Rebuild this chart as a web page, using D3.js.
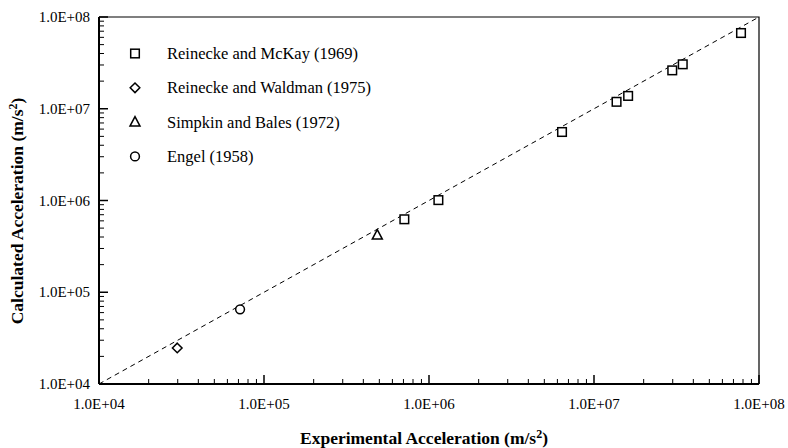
<!DOCTYPE html>
<html><head><meta charset="utf-8">
<script src="https://cdn.jsdelivr.net/npm/d3@7"></script>
<style>body{margin:0;background:#fff}svg{display:block}</style>
</head><body><svg id="c" width="788" height="448" font-family="'Liberation Serif', 'Times New Roman', Times, 'DejaVu Serif', serif"></svg>
<script>
const tickLabels = ["1.0E+04","1.0E+05","1.0E+06","1.0E+07","1.0E+08"];
const tickValues = [1e4,1e5,1e6,1e7,1e8];
const seriesNames = ["Reinecke and McKay (1969)","Reinecke and Waldman (1975)","Simpkin and Bales (1972)","Engel (1958)"];
const seriesSymbols = ["square","diamond","triangle","circle"];
const mckayX = [7.09e5,1.14e6,6.4e6,1.37e7,1.61e7,2.98e7,3.45e7,7.78e7];
const mckayY = [6.24e5,1.01e6,5.58e6,1.19e7,1.38e7,2.62e7,3.05e7,6.69e7];
const waldmanX = [2.98e4];
const waldmanY = [2.47e4];
const simpkinX = [4.86e5];
const simpkinY = [4.2e5];
const engelX = [7.16e4];
const engelY = [6.52e4];
const lineX = [1e4,1e8];
const lineY = [1e4,1e8];

const svg = d3.select("#c");
const L=99,R=759,T=17,B=384;
const x = d3.scaleLog().domain([1e4,1e8]).range([L,R]);
const y = d3.scaleLog().domain([1e4,1e8]).range([B,T]);

svg.append("path").attr("d",`M${L},${T}H${R}V${B}`).attr("fill","none").attr("stroke","#000").attr("stroke-width",1.2);

const minors=[];
for(let e=4;e<8;e++) for(let m=2;m<=9;m++) minors.push(m*Math.pow(10,e));
const g=svg.append("g");
minors.forEach(v=>{
  g.append("line").attr("x1",x(v)).attr("x2",x(v)).attr("y1",B).attr("y2",B-5).attr("stroke","#000").attr("stroke-width",1);
  g.append("line").attr("y1",y(v)).attr("y2",y(v)).attr("x1",L).attr("x2",L+5).attr("stroke","#000").attr("stroke-width",1);
});
tickValues.forEach((v,i)=>{
  g.append("line").attr("x1",x(v)).attr("x2",x(v)).attr("y1",B).attr("y2",B-9).attr("stroke","#000").attr("stroke-width",1.5);
  g.append("line").attr("y1",y(v)).attr("y2",y(v)).attr("x1",L).attr("x2",L+9).attr("stroke","#000").attr("stroke-width",1.5);
  svg.append("text").attr("x",x(v)).attr("y",409).attr("text-anchor","middle").attr("font-size",15).text(tickLabels[i]);
  svg.append("text").attr("x",90).attr("y",y(v)+5).attr("text-anchor","end").attr("font-size",15).text(tickLabels[i]);
});
svg.append("line").attr("x1",L).attr("x2",R).attr("y1",B).attr("y2",B).attr("stroke","#000").attr("stroke-width",2);
svg.append("line").attr("x1",L).attr("x2",L).attr("y1",T).attr("y2",B).attr("stroke","#000").attr("stroke-width",2);

svg.append("path").attr("d",d3.line().x(d=>x(d[0])).y(d=>y(d[1]))(lineX.map((v,i)=>[v,lineY[i]])))
  .attr("stroke","#000").attr("stroke-width",1).attr("stroke-dasharray","5,4").attr("fill","none");

function sym(sel,type,cx,cy){
  const st={fill:"#fff",stroke:"#000","stroke-width":1.5};
  let el;
  if(type==="square") el=sel.append("rect").attr("x",cx-4.3).attr("y",cy-4.3).attr("width",8.6).attr("height",8.6);
  else if(type==="circle") el=sel.append("circle").attr("cx",cx).attr("cy",cy).attr("r",4.4);
  else if(type==="diamond") el=sel.append("path").attr("d",`M${cx},${cy-4.8}L${cx+4.8},${cy}L${cx},${cy+4.8}L${cx-4.8},${cy}Z`);
  else el=sel.append("path").attr("d",`M${cx},${cy-5.5}L${cx+5},${cy+4}L${cx-5},${cy+4}Z`);
  Object.entries(st).forEach(([k,v])=>el.attr(k,v));
}
const sets=[[mckayX,mckayY],[waldmanX,waldmanY],[simpkinX,simpkinY],[engelX,engelY]];
sets.forEach((s,i)=>s[0].forEach((v,j)=>sym(svg,seriesSymbols[i],x(v),y(s[1][j]))));

seriesNames.forEach((n,i)=>{
  const cy=53.5+i*34.3;
  sym(svg,seriesSymbols[i],135,cy);
  svg.append("text").attr("x",167).attr("y",cy+5.5).attr("font-size",16.5).text(n);
});

const xt=svg.append("text").attr("x",424).attr("y",444).attr("text-anchor","middle").attr("font-size",17.5).attr("font-weight","bold");
xt.append("tspan").text("Experimental Acceleration (m/s");
xt.append("tspan").attr("dy",-6).attr("font-size",12).text("2");
xt.append("tspan").attr("dy",6).text(")");
const yt=svg.append("text").attr("transform","translate(23,211) rotate(-90)").attr("text-anchor","middle").attr("font-size",17.5).attr("font-weight","bold");
yt.append("tspan").text("Calculated Acceleration (m/s");
yt.append("tspan").attr("dy",-6).attr("font-size",12).text("2");
yt.append("tspan").attr("dy",6).text(")");
</script></body></html>
